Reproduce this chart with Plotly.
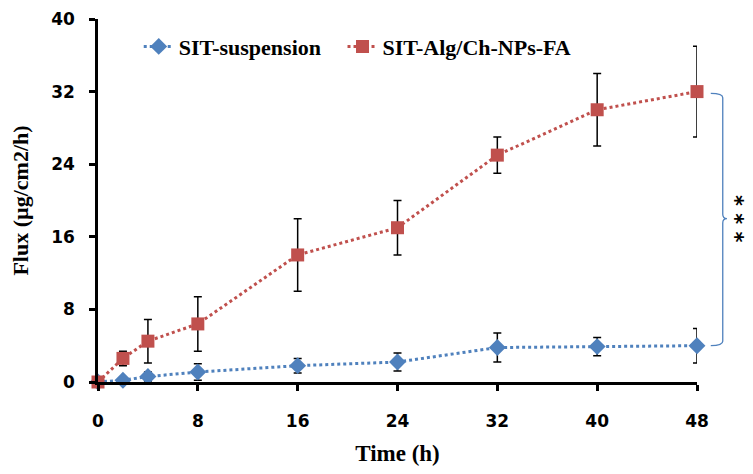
import plotly.graph_objects as go

time_h = [0, 2, 4, 8, 16, 24, 32, 40, 48]
susp = [0, 0.2, 0.6, 1.1, 1.8, 2.2, 3.8, 3.9, 4.0]
susp_err = [0, 0.2, 0.5, 0.9, 0.8, 1.0, 1.6, 1.0, 1.9]
nps = [0, 2.6, 4.5, 6.4, 14.0, 17.0, 25.0, 30.0, 32.0]
nps_err = [0, 0.8, 2.4, 3.0, 4.0, 3.0, 2.0, 4.0, 5.0]
x_ticks = [0, 8, 16, 24, 32, 40, 48]
y_ticks = [0, 8, 16, 24, 32, 40]

BLUE = "#4F81BD"
RED = "#C0504D"
YMAX = 40

fig = go.Figure()
fig.add_trace(go.Scatter(
    x=time_h, y=susp, name="<b>SIT-suspension</b>&nbsp;&nbsp;&nbsp;", mode="lines+markers",
    line=dict(color=BLUE, width=3, dash="dot"),
    marker=dict(symbol="diamond", size=13, color=BLUE),
    error_y=dict(type="data", array=susp_err, color="black", thickness=1.5, width=4),
    cliponaxis=False,
))
fig.add_trace(go.Scatter(
    x=time_h, y=nps, name="<b>SIT-Alg/Ch-NPs-FA</b>", mode="lines+markers",
    line=dict(color=RED, width=3, dash="dot"),
    marker=dict(symbol="square", size=13, color=RED),
    error_y=dict(type="data", array=nps_err, color="black", thickness=1.5, width=4),
    cliponaxis=False,
))

# significance bracket (paper coords derived from data values)
top = nps[-1] / YMAX
bot = susp[-1] / YMAX
mid = (top + bot) / 2
x0, x1, x2 = 1.023, 1.043, 1.05
path = (f"M {x0},{top-0.005} Q {x1},{top-0.005} {x1},{top-0.017} L {x1},{mid+0.012} "
        f"Q {x1},{mid} {x2},{mid} Q {x1},{mid} {x1},{mid-0.012} "
        f"L {x1},{bot+0.012} Q {x1},{bot} {x0},{bot}")
fig.add_shape(type="path", path=path, xref="paper", yref="paper",
              line=dict(color=BLUE, width=1.3))
fig.add_annotation(x=1.088, y=mid, xref="paper", yref="paper",
                   text="<b>* * *</b>", showarrow=False, textangle=90,
                   font=dict(family="DejaVu Sans", size=21, color="black"))

fig.update_layout(
    width=753, height=474,
    margin=dict(l=90, r=64, t=11, b=100),
    plot_bgcolor="white", paper_bgcolor="white",
    showlegend=True,
    legend=dict(orientation="h", x=0.068, y=0.924, xanchor="left", yanchor="middle",
                font=dict(family="Liberation Serif", size=22, color="black"),
                bgcolor="rgba(0,0,0,0)"),
    xaxis=dict(range=[0, 48], tickvals=x_ticks, showgrid=False, zeroline=False,
               automargin=False, ticklabeloverflow="allow",
               showline=True, linecolor="black", linewidth=2.5,
               ticks="outside", ticklen=6, tickwidth=2.5, tickcolor="black",
               tickfont=dict(family="DejaVu Sans", size=17, color="black", weight="bold"),
               ticklabelstandoff=16,
               title=dict(text="<b>Time (h)</b>", standoff=15,
                          font=dict(family="Liberation Serif", size=23, color="black"))),
    yaxis=dict(range=[0, YMAX], tickvals=y_ticks, showgrid=False, zeroline=False,
               automargin=False, ticklabeloverflow="allow",
               showline=True, linecolor="black", linewidth=2.5,
               ticks="outside", ticklen=6, tickwidth=2.5, tickcolor="black",
               tickfont=dict(family="DejaVu Sans", size=17, color="black", weight="bold"),
               ticklabelstandoff=11,
               title=dict(text="<b>Flux (µg/cm2/h)</b>", standoff=24,
                          font=dict(family="Liberation Serif", size=22, color="black"))),
)

fig.write_html("out.html")
